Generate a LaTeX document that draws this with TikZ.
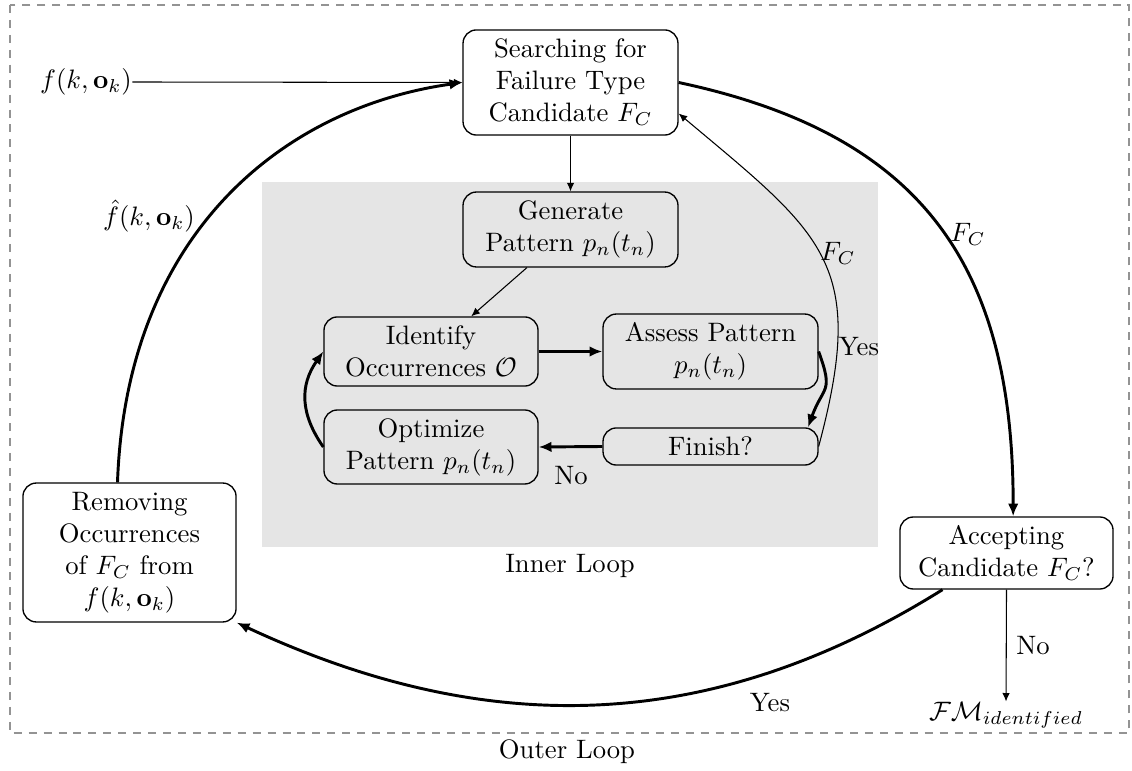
\documentclass[tikz,border=0pt]{standalone}
\usetikzlibrary{arrows.meta}
\begin{document}
\begin{tikzpicture}[x=0.375pt,y=0.375pt,
  box/.style={draw, line width=0.5pt, rounded corners=5pt, align=center, inner sep=0pt},
  thinarrow/.style={line width=0.4pt, -{Latex[length=3.2pt,width=2.8pt]}},
  thickarrow/.style={line width=1.1pt, -{Latex[length=4.8pt,width=4pt]}},
  lbl/.style={inner sep=0pt}]
\useasboundingbox (0,0) rectangle (1132,-771);
% frames
\draw[gray!85, line width=0.45pt, dash pattern=on 3pt off 2.6pt] (10,-5) rectangle (1129,-733);
\fill[gray!20] (262,-182) rectangle (878,-547);
\node[lbl] (outer) at (567,-752) {Outer Loop};
\node[lbl] (inner) at (570,-566) {Inner Loop};
% nodes
\node[box, fill=white, minimum width=80.6pt, minimum height=39.4pt] (search) at (570.5,-82.5) {Searching for\\Failure Type\\Candidate $F_C$};
\node[box, minimum width=80.6pt, minimum height=28.1pt] (gen) at (570.5,-229.5) {Generate\\Pattern $p_n(t_n)$};
\node[box, minimum width=80.25pt, minimum height=25.9pt] (ident) at (431,-351.5) {Identify\\Occurrences $\mathcal{O}$};
\node[box, minimum width=80.6pt, minimum height=28.1pt] (assess) at (710.5,-351.5) {Assess Pattern\\$p_n(t_n)$};
\node[box, minimum width=80.25pt, minimum height=27.75pt] (optim) at (431,-447) {Optimize\\Pattern $p_n(t_n)$};
\node[box, minimum width=80.6pt, minimum height=13.9pt] (finish) at (710.5,-446.5) {Finish?};
\node[box, minimum width=79.9pt, minimum height=52.1pt] (remove) at (129.5,-552.5) {Removing\\Occurrences\\of $F_C$ from\\$f(k,\mathbf{o}_k)$};
\node[box, minimum width=79.9pt, minimum height=27pt] (accept) at (1006.5,-553) {Accepting\\Candidate $F_C$?};
\node[lbl] (fin) at (86,-82) {$f(k,\mathbf{o}_k)$};
\node[lbl] (fm) at (1006,-715) {$\mathcal{FM}_{identified}$};
% labels
\node[lbl] (fhat) at (149,-216) {$\hat{f}(k,\mathbf{o}_k)$};
\node[lbl] (fcout) at (968,-234) {$F_C$};
\node[lbl] (fcin) at (838,-253) {$F_C$};
\node[lbl] (yesin) at (859,-347) {Yes};
\node[lbl] (noin) at (571,-476) {No};
\node[lbl] (yesout) at (770,-703) {Yes};
\node[lbl] (noout) at (1033,-646) {No};
% connectors
\draw[thinarrow] (fin.east) -- (search.west);
\draw[thinarrow] (search.south) -- (gen.north);
\draw[thinarrow] (gen) -- (ident);
\draw[thickarrow] (ident.east) -- (assess.west);
\draw[thickarrow] (assess.east) to[out=-70,in=70,looseness=1.5] ([xshift=-4pt]finish.north east);
\draw[thickarrow] (finish.west) -- (optim.east);
\draw[thickarrow] (optim.west) to[out=125,in=-125,looseness=1.1] (ident.west);
\draw[thinarrow] (finish.east) .. controls +(75:71.25pt) and +(-40:71.25pt) .. (search.-16);
\draw[thickarrow] (search.east) .. controls +(-12:93.75pt) and +(90:93.75pt) .. ([xshift=2.5pt]accept.north);
\draw[thinarrow] (accept.south) -- (fm.north);
\draw[thickarrow] ([xshift=-24pt]accept.south) .. controls +(212:101.25pt) and +(-25:105pt) .. (remove.south east);
\draw[thickarrow] ([xshift=-4.5pt]remove.north) .. controls +(88:93.75pt) and +(188:67.5pt) .. (search.west);
\end{tikzpicture}
\end{document}
